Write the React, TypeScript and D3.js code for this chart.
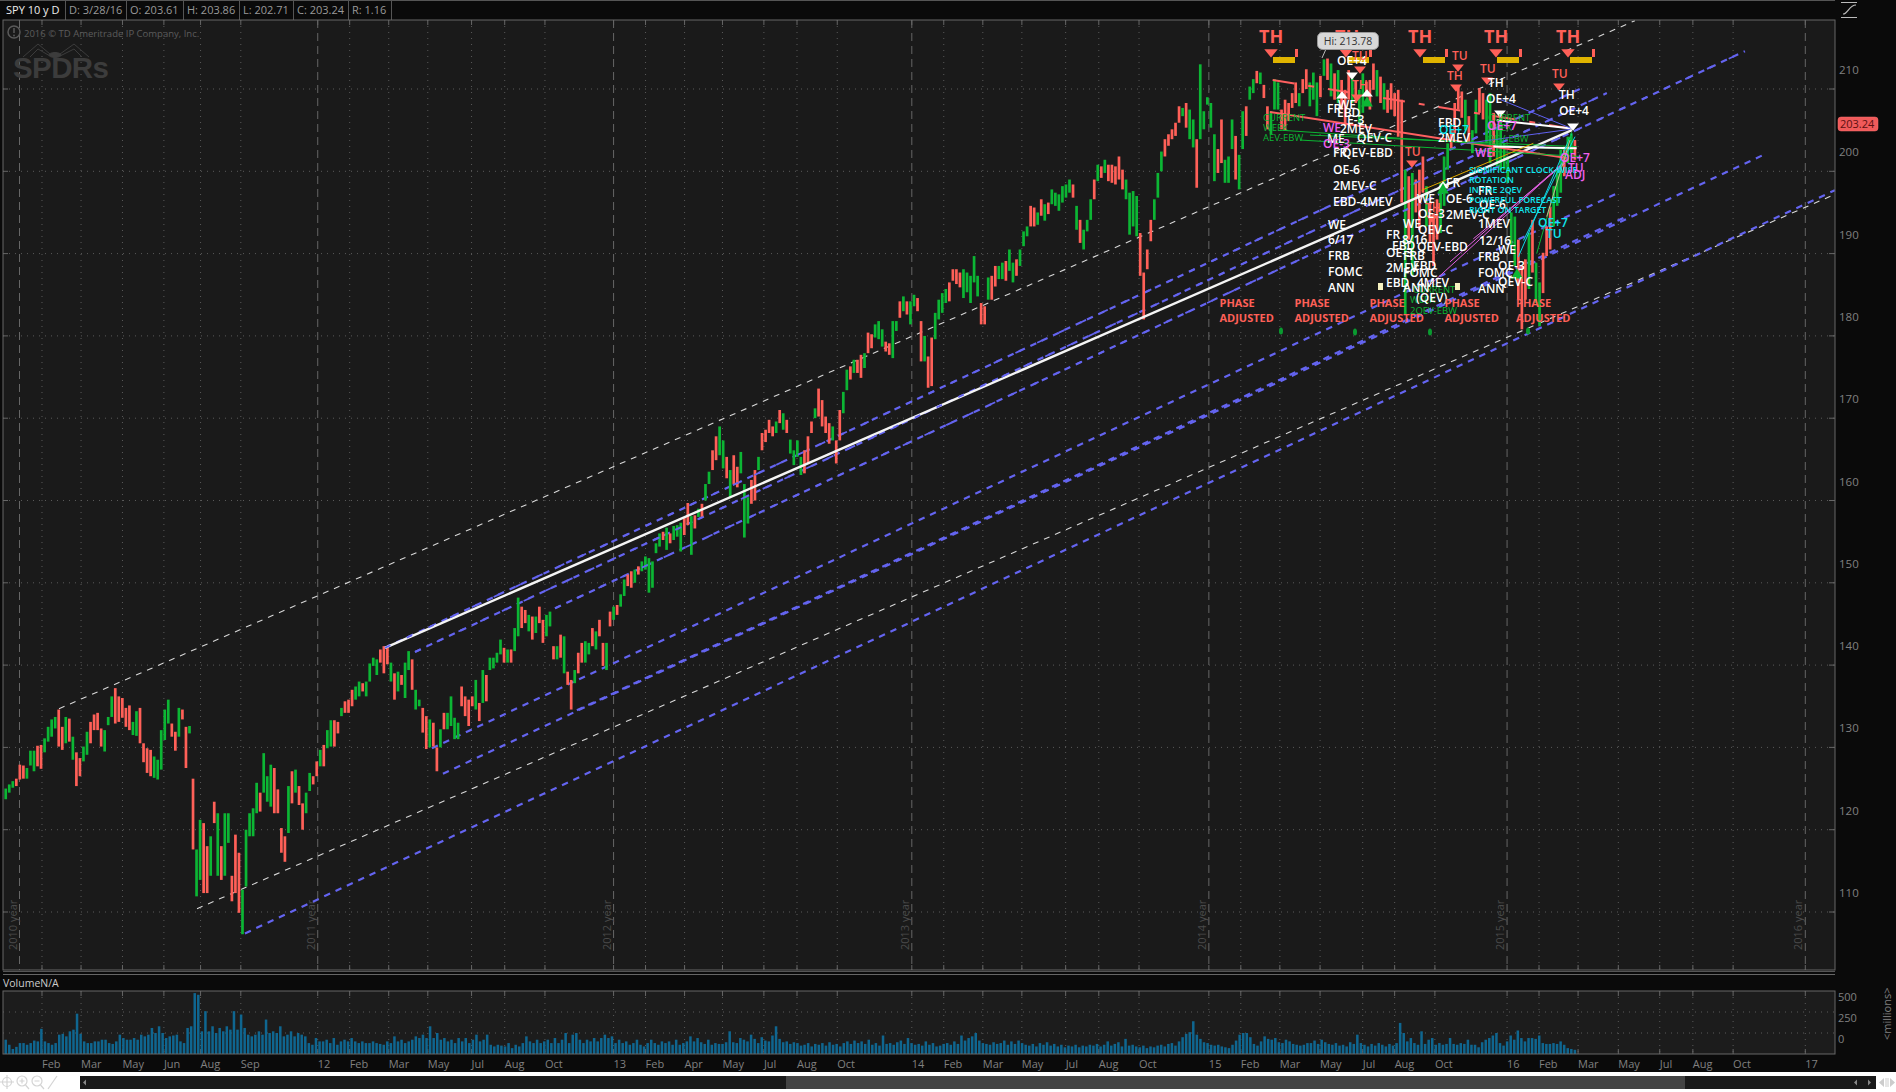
import React from "react";
import * as d3 from "d3";

// daily bars thinned to about every third session
const highs = [
  125, 125.5, 125.9, 126.2, 127.9, 127.8, 127.5, 129.6, 129.6, 130.2,
  130.3, 131.1, 132.5, 133.4, 133.7, 134.6, 132.5, 133.7, 133.5, 131.3,
  129.4, 128.7, 130.1, 131.9, 133.1, 134, 134.2, 132.3, 132.1, 133.7,
  136.2, 137.2, 136.2, 136, 134.8, 135.1, 133.1, 134.4, 134.8, 130.5,
  129.9, 129.7, 128.9, 128.5, 132.1, 134.6, 135.8, 132.9, 131.9, 134.8,
  134.6, 132.5, 132.6, 126.2, 117.6, 121.2, 120.8, 118, 119.2, 123.4,
  122, 118, 122, 122, 114.4, 119.4, 117.2, 112.7, 120, 122,
  122.6, 125.7, 124.5, 129.3, 126.5, 127.9, 127.5, 124.9, 120.2, 119.2,
  125.3, 127.1, 127.3, 125.3, 123.2, 124.5, 126.9, 126.5, 128.3, 129.7,
  130.3, 132.1, 133.3, 133.3, 133.1, 134.8, 135.6, 135.8, 137, 137.4,
  138, 137.8, 138,
  140.2, 140.9, 140.7, 141.9, 142.3, 142.1, 140.3, 139, 139.2, 138.8,
  140.3, 141.7, 140.7, 137, 135.8, 134.8, 133.8, 133.4, 133, 130,
  132.2, 134.2, 134.2, 136.2, 133.6, 133, 137.4, 136.2, 135.8, 136.2,
  138.2, 135.4, 139.4, 138.8, 140.9, 140.9, 141.5, 143.1, 142.1, 141.9,
  141.9, 144.5, 148.2, 147.1, 146.7, 146.1, 145.9, 145.9, 147.1, 145.5,
  146.1, 146.5, 142.3, 142.3, 143.7, 143.5, 139.2, 138.2, 139.4, 141.5,
  142.7, 142.9, 142.7, 144.5, 144.1, 145.5, 142.7, 142.7, 146.5, 147.1,
  147.3, 148.6, 150.4, 151, 151.4, 151.6, 152, 152.6, 153.2, 153,
  152.6, 154.8, 156, 156.2, 156.7, 156, 156.9, 157, 157.3, 157.9,
  159.7, 158.1,
  158.2, 159, 159.6, 162, 163.5, 166.1, 167.8, 169, 167.3, 165.3,
  163.7, 165.5, 164.1, 165.9, 162, 160.4, 162.5, 163.7, 165.3, 168.2,
  168.6, 169.8, 169, 169.6, 171, 170.6, 169.8, 167.4, 166.1, 167.3,
  165.3, 166.1, 167.8, 169.6, 171.2, 173.6, 172.2, 170.2, 169.4, 169,
  167.3, 171, 173.2, 175.9, 176.3, 177.1, 177.1, 177.7, 177.9, 180.4,
  180.2, 181.4, 181.8, 180.8, 179.3, 179.1, 181.8, 181.8, 184.2, 184.8,
  184.2, 184.2, 185, 184.6, 181.8, 180, 177.5, 179.8, 182.8, 184.4,
  185.2, 185.7, 186.5, 188.1, 188.1, 187.7, 188.1, 187.7, 187.3, 189.7,
  187.3, 184, 183.6, 187.1,
  187.3, 188.5, 188.5, 188.9, 189.1, 190.5, 188.9, 189.3, 190.5, 192.7,
  193.3, 195.8, 195.6, 195, 196.6, 196, 196.2, 197.8, 197.4, 197.2,
  198.2, 198.4, 199, 198.4, 195.8, 194.1, 192.9, 194.1, 196.6, 199,
  200.8, 200.6, 201.4, 200.8, 200.8, 200.6, 201.8, 200.2, 199, 197.4,
  197.6, 197, 192.5, 187.7, 190.5, 194.1, 196.6, 199.8, 202.4, 203.9,
  204.5, 205.1, 205.9, 207.9, 207.7, 208.3, 207.5, 206.3, 203.9, 213,
  207.3, 209, 208.3, 204.5, 202.7, 206.3, 201.4, 201.8, 206.3, 204.3,
  202, 207.3, 207.9, 210.3, 211.2, 212.2, 212, 210.5, 207.9, 207.3,
  211.2, 210.8, 207.5, 208.7, 208.3, 209.5, 210.8, 209.5, 211.2, 212.4,
  210.8, 212, 210.8, 211.6, 213.6,
  213.7, 213.1, 211.9, 212.3, 211.1, 209.9, 212.3, 211.3, 211.1, 209.9,
  211.9, 210.9, 211.1, 213.1, 212.3, 211.5, 210.7, 209.9, 210.7, 209.5,
  209.9, 208.7, 200.2, 199.4, 199.8, 199, 200.2, 201.8, 198.2, 196.2,
  194.9, 196.6, 198.6, 201.8, 203.4, 205, 208.3, 210.3, 209.7, 208.7,
  206.7, 205, 208.7, 210.1, 209.5, 208.7, 209.5, 207.1, 205.4, 207.1,
  203.4, 201.8, 195, 194.5, 191.7, 188.5, 189.3, 192.5, 194.1, 188.9,
  186.5, 190.1, 193.3, 195.7, 198.2, 200.2, 202.6, 203, 204.2, 204.6,
  203.8,
];

const lows = [
  123.7, 124.5, 125.1, 125.3, 126.1, 126.2, 126.2, 127.8, 127.1, 127.7,
  127.4, 129.4, 130.7, 131.3, 132.3, 130.1, 129.7, 130.5, 130.7, 128.5,
  125.3, 126.5, 128.3, 129.1, 130.5, 132.1, 132.1, 130.1, 129.5, 132.7,
  133.7, 132.9, 133.1, 133.6, 132.5, 132.1, 131.5, 131.4, 130.5, 128.2,
  126.9, 126.5, 126.3, 126.1, 127.3, 130.9, 132.9, 131.3, 129.6, 131.3,
  133.4, 127.5, 131.7, 117.6, 111.9, 113.9, 112.3, 112.3, 114.4, 120.8,
  114.4, 113.9, 114.4, 118.4, 111.3, 112.3, 109.9, 107.3, 113.1, 119.2,
  119.2, 122, 122.2, 124.5, 123.4, 122.8, 122, 122, 117.2, 116.1,
  119.6, 123.2, 124.5, 123, 120, 122, 124.7, 125.5, 126.5, 127.7,
  127.7, 129.9, 130.1, 130.1, 131.7, 133.8, 134.2, 134.2, 135, 135.8,
  136.2, 136.8, 136.2,
  138, 139.9, 138.8, 140.3, 139, 140.1, 138, 135.8, 136.8, 137.6,
  136, 139.4, 137, 134.6, 135, 131.8, 129.8, 130, 130.1, 127.1,
  130, 132.2, 132.2, 132.6, 131, 131, 135, 133.8, 132.6, 135,
  134.6, 133.2, 135.4, 135.6, 139.4, 139.6, 140.3, 141.3, 140.3, 140.3,
  140.3, 141.7, 143.5, 144.5, 145.1, 144.1, 143.1, 143.9, 145.1, 142.7,
  143.5, 144.7, 140.7, 140.7, 140.9, 139, 137.6, 134.6, 137.8, 139,
  140.3, 140.3, 141.3, 142.3, 141.9, 143.5, 139.9, 139.4, 144.7, 145.5,
  146.1, 147.1, 148.4, 149.6, 149.4, 150, 151, 151.4, 151.6, 148.8,
  149.4, 153.6, 154.4, 155.2, 154, 154.8, 155.2, 155.6, 153.8, 155.8,
  157, 153.4,
  156.6, 158, 158, 160, 162, 163.7, 164.9, 165.5, 163.9, 162.7,
  160.4, 162, 161.6, 163.3, 155.5, 157.2, 159.6, 160, 163.7, 166.1,
  167.1, 168.2, 167.8, 168.2, 169.4, 168.6, 168.2, 165.7, 164.3, 165.3,
  163.1, 163.3, 164.5, 168.2, 170, 170.2, 169, 168.2, 166.9, 167.3,
  164.5, 167.3, 170.6, 173.4, 174.7, 175.5, 175.5, 174.9, 176.1, 177.9,
  178.5, 179.8, 179.6, 178.7, 178.1, 177.7, 177.3, 180.6, 182.2, 183,
  182.6, 181.4, 183.6, 183, 176.9, 176.9, 173.7, 173.9, 179.6, 182,
  182.8, 184, 184.2, 186.7, 186.3, 185.9, 184.6, 185.3, 184, 186.5,
  184.8, 181.4, 181.4, 184.4,
  184.4, 186, 186.9, 186.9, 186.7, 187.9, 186.5, 187.3, 188.5, 190.9,
  192.1, 193.3, 193.3, 193.5, 194.6, 194, 194.8, 196, 195.8, 195.2,
  196.2, 196.8, 197.4, 196.8, 192.9, 191.3, 190.5, 192.7, 194.1, 196.6,
  198.8, 199.2, 199.8, 198.8, 198.6, 198.4, 199, 197.8, 196.6, 192.3,
  193.3, 192.1, 187.3, 182, 188.1, 191.5, 194.1, 196.8, 200, 201.8,
  203.1, 203.9, 204.3, 205.9, 206.7, 205.3, 203.9, 202.9, 198, 203.9,
  205.1, 208.1, 205.3, 198.8, 199.8, 201, 198.6, 198.6, 202.7, 199,
  197.8, 202.7, 204.3, 208.7, 209.5, 210.7, 210.6, 208.9, 205.1, 204.5,
  207.5, 207.5, 205.1, 204.9, 206.1, 207.7, 208.3, 207.9, 209.5, 210,
  207.9, 208.7, 206.7, 209, 211.6,
  211.1, 209.1, 208.7, 208.3, 207.5, 205.5, 208.7, 208.3, 208.3, 205.9,
  207.1, 209.1, 207.5, 209.9, 209.1, 208.3, 207.5, 207.1, 207.5, 206.7,
  204.2, 196.2, 182.6, 191.7, 187.3, 195, 192.9, 197.4, 193.3, 191.3,
  188.5, 191.7, 192.5, 195.8, 200.2, 202.6, 204.6, 207.5, 206.5, 205,
  203.4, 202.2, 204.6, 207.1, 206.3, 203.4, 201, 201.8, 200.6, 200.2,
  200.2, 198.6, 190.9, 188.5, 184.4, 180.8, 184.4, 185.7, 187.7, 184,
  181.2, 185.2, 189.7, 190.5, 193.3, 195.8, 197.4, 199.4, 201, 202.2,
  201.4,
];

const barSides =
  "gggrrrgggr" + "rggggrrgrg" + "rrggrrrrgg" + "grrrrrggrr" + "rrgggggrrg" +
  "rrgrggrrgr" + "grggrrrggg" + "ggrgggrrrr" + "grgrrggrrg" + "rggrrgrrrg" +
  "grg" +
  "gggrrrgrgr" + "ggrggrrgrr" + "grggggrrrr" + "grgrggggrg" + "rggrrgrgrr" +
  "ggrgrgrrgr" + "rggrgrrgrg" + "rggrrgrggg" + "gggrgrgggr" + "rgrgrggrrg" +
  "gr" +
  "grrgggrrgr" + "rrrgrgrggg" + "grrrgrrrrg" + "rrggrgrrgr" + "rgggrrggrg" +
  "rggrrgrrgg" + "ggrrrrgggg" + "grrgrrggrg" + "grgg" +
  "grrgrgrggg" + "gggrgrgggr" + "grgrrrrrgg" + "ggrrrrgggr" + "rrrrgrggrg" +
  "ggggrrgggr" + "ggrggrgrrg" + "ggrrrrrgrr" + "gggrgrgrgr" + "rrgrg" +
  "grrrgrgrrr" + "rrgrgrrrgr" + "rrgggrrrrg" + "rggrrggrgg" + "ggggrrrgrg" +
  "grrrgggrgg" + "rrggrrrrrg" + "r";

const volumes = [
  170, 110, 60, 85, 130, 130, 110, 130, 160, 150, 300, 150, 130, 110, 130, 230, 240, 210, 270, 290,
  480, 240, 150, 130, 130, 150, 150, 170, 170, 130, 120, 150, 230, 190, 170, 170, 190, 170, 230, 210,
  230, 310, 250, 330, 250, 190, 210, 220, 230, 150, 130, 310, 330, 725, 705, 270, 510, 270, 330, 250,
  310, 270, 330, 290, 510, 290, 470, 310, 230, 210, 230, 270, 230, 410, 250, 270, 250, 330, 210, 230,
  270, 210, 250, 230, 210, 130, 110, 190, 150, 150, 170, 130, 190, 110, 150, 170, 150, 190, 150, 130,
  150, 130, 130, 150, 130, 120, 110, 150, 130, 210, 150, 170, 130, 150, 170, 210, 190, 230, 190, 330,
  190, 250, 170, 190, 150, 170, 130, 190, 150, 190, 130, 170, 230, 150, 170, 230, 110, 90, 110, 100,
  90, 130, 70, 110, 90, 130, 210, 150, 130, 170, 130, 150, 170, 130, 190, 130, 170, 250, 130, 230,
  250, 170, 130, 170, 150, 190, 150, 190, 230, 190, 210, 130, 170, 130, 150, 110, 130, 170, 110, 90,
  130, 170, 130, 110, 150, 130, 150, 110, 170, 110, 130, 150, 210, 150, 190,
  140, 120, 170, 110, 130, 120, 120, 140, 270, 140, 130, 190, 170, 150, 230, 180, 130, 200, 160, 150,
  220, 330, 180, 140, 150, 120, 140, 130, 100, 110, 130, 90, 120, 110, 130, 100, 140, 110, 120, 90,
  130, 150, 120, 160, 130, 150, 120, 170, 110, 130, 100, 220, 120, 130, 110, 140, 160, 120, 190, 130,
  110, 120, 100, 150, 110, 130, 90, 100, 120, 130, 110, 150, 120, 220, 160, 190, 210, 250, 160, 130,
  120, 110, 140, 120, 130, 160, 110, 150, 120, 160, 130, 110, 100, 120, 90, 130, 110, 140, 100, 120,
  90, 110, 80, 100, 90, 110, 80, 100, 90, 110, 100, 120, 90, 110, 150, 100, 120, 140, 90, 180,
  100, 110, 90, 80, 100, 70, 90, 80, 100, 110, 90, 120, 130, 100, 150, 200, 240, 260, 390, 230,
  180, 140, 130, 110, 100, 110, 90, 80, 70, 110, 160, 230, 250, 250, 200, 120, 100, 150, 210, 180,
  170, 190, 140, 130, 170, 150, 120, 110, 100, 110, 130, 130, 160, 120, 170, 140, 120, 110, 130, 100,
  110, 90, 140, 120, 230, 130, 110, 90, 120, 100, 130, 110, 90, 120, 100, 130,
  370, 250, 150, 190, 130, 110, 270, 120, 170, 190, 110, 130, 110, 120, 190, 120, 110, 130, 120, 170,
  110, 110, 80, 140, 170, 190, 220, 250, 130, 100, 150, 220, 170, 280, 190, 150, 190, 190, 180, 220,
  130, 120, 120, 130, 120, 150, 110, 70, 60, 50,
];

// tick sessions counted from the first session of the year drawn at the left
const tickLabels = [
  "Feb", "Mar", "May", "Jun", "Aug", "Sep", "12", "Feb", "Mar", "May", "Jul", "Aug", "Oct", "13", "Feb", "Apr",
  "May", "Jul", "Aug", "Oct", "14", "Feb", "Mar", "May", "Jul", "Aug", "Oct", "15", "Feb", "Mar", "May", "Jul",
  "Aug", "Oct", "16", "Feb", "Mar", "May", "Jul", "Aug", "Oct", "17",
];
const tickSessions = [
  19, 52, 87, 122, 153, 187, 252, 279, 312, 345, 382, 410, 444, 502, 529, 562,
  594, 629, 657, 691, 754, 781, 814, 847, 884, 912, 946, 1005, 1032, 1065, 1099, 1135,
  1162, 1196, 1257, 1284, 1317, 1351, 1386, 1414, 1448, 1509,
];
const yearSessions = [0, 252, 502, 754, 1005, 1257, 1509];
const yearNames = ["2010 year", "2011 year", "2012 year", "2013 year", "2014 year", "2015 year", "2016 year"];
const priceTicks = [110, 120, 130, 140, 150, 160, 170, 180, 190, 200, 210];
const volumeTicks = [0, 250, 500];

// trend lines as start session, start price, end session, end price
const whiteChannels = [
  [33.4, 134.7, 1365, 218.3],
  [150, 110.4, 1534, 197.2],
];
const blueChannels = [
  [308.8, 142.1, 1318.5, 210],
  [334.2, 141.6, 1341.3, 209.5],
  [452.5, 146.9, 1458, 214.6],
  [348.5, 129.9, 1352.4, 197.5],
  [357.8, 126.8, 1476.6, 202.2],
  [471, 134.5, 1360.8, 194.7],
  [190.5, 107.4, 1534, 197.7],
];
const mainTrend = [308.8, 142.1, 1311.8, 205];
const fanLines = [
  { c: "#ff6060", w: 2, d: "", p: [1056.7, 207.2, 1307.4, 201.6] },
  { c: "#ff6060", w: 2, d: "22 14 6 14", p: [1058.9, 211.1, 1310.2, 205.2] },
  { c: "#0cb634", w: 1, d: "", p: [1065.1, 205, 1313, 202.6] },
  { c: "#0cb634", w: 1, d: "", p: [1090.5, 204.4, 1315.8, 203] },
  { c: "#0cb634", w: 1, d: "", p: [1082, 203.8, 1318.6, 201.8] },
  { c: "#ffffff", w: 2, d: "", p: [1248.2, 206.2, 1311.6, 205.2] },
  { c: "#ffffff", w: 2, d: "", p: [1245.4, 203, 1315.8, 202.8] },
  { c: "#e0a800", w: 1, d: "", p: [1184.8, 197.7, 1279.2, 203.4] },
  { c: "#6060f0", w: 1, d: "", p: [1248.2, 208.9, 1311.6, 205.2] },
  { c: "#6060f0", w: 1, d: "", p: [1222.9, 203.4, 1310.2, 205.1] },
  { c: "#e060e0", w: 1, d: "", p: [1191.9, 186.2, 1307.4, 201.4] },
  { c: "#e060e0", w: 1, d: "", p: [1208.8, 189, 1307.4, 201.4] },
  { c: "#e060e0", w: 1, d: "", p: [1228.5, 191.8, 1306, 201] },
  { c: "#10d8e8", w: 1, d: "", p: [1266.5, 189.6, 1311.6, 204.6] },
  { c: "#10d8e8", w: 1, d: "", p: [1270.8, 191.6, 1314.4, 204.2] },
  { c: "#0cb634", w: 1, d: "", p: [1282, 190, 1311.6, 204.8] },
  { c: "#c8b890", w: 1, d: "", p: [1290.5, 194.5, 1310.2, 203.8] },
];

const W = "#ffffff";
const C = "#10e8f0";
const M = "#f060f0";
const R = "#ff6058";
const G = "#0cb634";

const whiteNotes: [number, number, string][] = [
  [1337, 65, "OE+4"], [1327, 113, "FR"], [1338, 109, "WE"], [1337, 117, "EBD"], [1347, 124, "E-3"],
  [1340, 133, "2MEV"], [1327, 143, "ME"], [1357, 142, "QEV-C"], [1333, 157, "FR"], [1342, 157, "QEV-EBD"],
  [1333, 174, "OE-6"], [1333, 190, "2MEV-C"], [1333, 206, "EBD-4MEV"], [1328, 229, "WE"], [1328, 244, "6/17"],
  [1328, 260, "FRB"], [1328, 276, "FOMC"], [1328, 292, "ANN"],
  [1386, 239, "FR"], [1402, 244, "8/16"], [1403, 228, "WE"], [1418, 218, "OE-3"], [1418, 234, "QEV-C"],
  [1392, 250, "EBD"], [1417, 251, "QEV-EBD"], [1386, 257, "OE-3"], [1403, 260, "FRB"], [1386, 272, "2MEV"],
  [1413, 270, "EBD"], [1403, 277, "FOMC"], [1386, 287, "EBD"], [1417, 287, "4MEV"], [1403, 292, "ANN"], [1416, 302, "(QEV)"],
  [1438, 127, "EBD"], [1438, 142, "2MEV"], [1446, 187, "FR"], [1417, 203, "WE"], [1446, 203, "OE-6"], [1446, 219, "2MEV-C"],
  [1488, 87, "TH"], [1486, 103, "OE+4"], [1478, 195, "FR"], [1479, 209, "OE-6"], [1478, 228, "1MEV"], [1479, 245, "12/16"],
  [1498, 254, "WE"], [1478, 261, "FRB"], [1498, 270, "OE-3"], [1478, 277, "FOMC"], [1498, 286, "QEV-C"], [1478, 293, "ANN"],
  [1559, 99, "TH"], [1559, 115, "OE+4"],
];
const cyanNotes: [number, number, string][] = [[1439, 134, "OE+7"], [1538, 227, "OE+7"], [1546, 238, "TU"]];
const cyanSmall: [number, number, string][] = [
  [1469, 173, "SIGNIFICANT CLOCK-WISE"], [1469, 183, "ROTATION"], [1469, 193, "IN THE 2QEV"],
  [1469, 203, "POWERFUL FORECAST"], [1469, 213, "RIGHT ON TARGET"],
];
const magentaNotes: [number, number, string][] = [
  [1323, 132, "WE"], [1323, 148, "OE-3"], [1487, 130, "OE+7"], [1475, 157, "WE"],
  [1560, 162, "OE+7"], [1568, 172, "TU"], [1565, 179, "ADJ"],
];
const greenNotes: [number, number, string][] = [
  [1263, 121, "CURRENT"], [1263, 131, "WEEK"], [1263, 141, "AEV-EBW"],
  [1488, 121, "CURRENT"], [1487, 131, "WEEK"], [1487, 142, "OEV-EBW"],
  [1413, 293, "CURRENT"], [1410, 303, "WEEK"], [1410, 314, "2QEV-EBW"],
];
const redNotes: [number, number, string][] = [
  [1352, 60, "TU"], [1405, 156, "TU"], [1452, 60, "TU"], [1480, 73, "TU"], [1552, 78, "TU"],
  [1352, 89, "TH"], [1447, 80, "TH"], [1425, 212, "TH"],
];
const bigTh = [1259, 1335, 1408, 1484, 1556];
const bigThTri = [1271, 1346, 1420, 1496, 1568];
const yellowBars = [1273, 1347, 1423, 1497, 1570];
const smallRedTri = [[1360, 69], [1412, 163], [1458, 67], [1487, 80], [1559, 86], [1357, 97], [1456, 87], [1432, 218]];
const whiteDownTri = [[1352, 75], [1500, 113], [1573, 126]];
const whiteUpTri = [[1342, 96], [1367, 94], [1443, 186]];
const greenUpTri = [[1367, 103], [1443, 190], [1517, 275]];
const phaseX = [1219.5, 1294.5, 1369.5, 1444.5, 1516];
const ovals = [[1281, 331], [1355, 332], [1430, 332], [1528, 331]];
const squares = [[1378, 283], [1455, 283]];
const headerCells = ["D: 3/28/16", "O: 203.61", "H: 203.86", "L: 202.71", "C: 203.24", "R: 1.16"];
const headerX = [69, 130, 187, 243, 297, 352];
const headerSeps = [65, 126, 183, 239, 293, 348, 391];

const font = "'Open Sans', sans-serif";

export default function App() {
  const x = d3.scaleLinear().domain([0, 1509]).range([19.5, 1805.3]);
  const y = d3.scaleLinear().domain([110, 210]).range([912, 89]);
  const yVol = d3.scaleLinear().domain([0, 500]).range([1054, 1012]);
  const firstSession = -11.65;
  const lastSession = 1314.3;
  const barX = d3.scaleLinear().domain([0, highs.length - 1]).range([x(firstSession), x(lastSession)]);
  const volX = d3.scaleLinear().domain([0, volumes.length - 1]).range([x(firstSession), x(lastSession)]);
  const segment = (p: number[], props: any, key: any) => (
    <line key={key} x1={x(p[0])} y1={y(p[1])} x2={x(p[2])} y2={y(p[3])} {...props} />
  );
  const triUp = d3.symbol().type(d3.symbolTriangle).size(60)() as string;
  const notes = (list: [number, number, string][], fill: string, size: number, weight = 600) =>
    list.map((n, i) => (
      <text key={fill + size + i} x={n[0]} y={n[1]} fill={fill} fontSize={size} fontWeight={weight}>
        {n[2]}
      </text>
    ));

  return (
    <svg
      width={1896}
      height={1092}
      style={{ position: "absolute", left: 0, top: 0, display: "block", fontFamily: font }}
    >
      <rect width={1896} height={1092} fill="#0a0a0a" />
      <rect x={3} y={20} width={1832} height={950} fill="#1a1a1a" />
      <rect x={3} y={991} width={1832} height={63} fill="#1c1c1c" />

      {/* header strip */}
      <line x1={0} x2={1835} y1={0.5} y2={0.5} stroke="#555" />
      <text x={6} y={14} fill="#eee" fontSize={11}>SPY 10 y D</text>
      {headerCells.map((t, i) => (
        <text key={t} x={headerX[i]} y={14} fill="#999" fontSize={11}>{t}</text>
      ))}
      {headerSeps.map((s) => (
        <line key={s} x1={s + 0.5} x2={s + 0.5} y1={0} y2={20} stroke="#555" />
      ))}

      {/* grid */}
      {priceTicks.map((p) => (
        <g key={p}>
          <line x1={3} x2={1835} y1={y(p)} y2={y(p)} stroke="#5a5a5a" strokeDasharray="1 5" />
          <line x1={3} x2={8} y1={y(p)} y2={y(p)} stroke="#666" />
          <line x1={1829} x2={1835} y1={y(p)} y2={y(p)} stroke="#666" />
          <text x={1839} y={y(p) - 15} fill="#808080" fontSize={11.5}>{p}</text>
        </g>
      ))}
      {tickSessions.map((s, i) => {
        const isYear = yearSessions.includes(s);
        return (
          <g key={i}>
            <line
              x1={x(s)} x2={x(s)} y1={20} y2={970}
              stroke={isYear ? "#666" : "#5a5a5a"}
              strokeDasharray={isYear ? "8 5" : "1 5"}
            />
            <line x1={x(s)} x2={x(s)} y1={20} y2={25} stroke="#666" />
            <line x1={x(s)} x2={x(s)} y1={965} y2={970} stroke="#666" />
            <line x1={x(s)} x2={x(s)} y1={991} y2={1054} stroke="#5a5a5a" strokeDasharray="1 5" />
            <line x1={x(s)} x2={x(s)} y1={991} y2={996} stroke="#666" />
            <line x1={x(s)} x2={x(s)} y1={1049} y2={1054} stroke="#666" />
            <text x={x(s)} y={1068} fill="#808080" fontSize={11}>{tickLabels[i]}</text>
          </g>
        );
      })}
      <line x1={x(0)} x2={x(0)} y1={20} y2={970} stroke="#666" strokeDasharray="8 5" />
      {yearNames.map((t, i) => (
        <text
          key={t}
          transform={`translate(${x(yearSessions[i]) - 3},950) rotate(-90)`}
          fill="#4a4a4a"
          fontSize={11}
        >
          {t}
        </text>
      ))}

      {/* watermark */}
      <circle cx={14} cy={32} r={6} fill="none" stroke="#5a5a5a" strokeWidth={1.5} />
      <line x1={14} x2={14} y1={28} y2={33} stroke="#5a5a5a" strokeWidth={1.5} />
      <circle cx={14} cy={35.5} r={0.9} fill="#5a5a5a" />
      <text x={24} y={37} fill="#5c5c5c" fontSize={9.5}>2016 © TD Ameritrade IP Company, Inc.</text>
      <text x={13} y={78} fill="#3c3c3c" fontSize={29.5} fontWeight={700} letterSpacing={-0.6} fontFamily="'Liberation Sans'">SPDRs</text>
      <g stroke="#3c3c3c" fill="none">
        <path d="M23 57 L38 44 L50 54 M30 57 L38 49 L50 56 M89 57 L74 44 L60 54 M82 57 L74 49 L60 56" />
        <ellipse cx={55} cy={55} rx={6} ry={2.5} fill="#3c3c3c" />
      </g>

      {/* channels under the bars */}
      {whiteChannels.map((p, i) =>
        segment(p, { stroke: "#d8d8d8", strokeWidth: 1.1, strokeDasharray: "6 6" }, "wc" + i)
      )}
      {blueChannels.map((p, i) =>
        segment(p, { stroke: "#6464f0", strokeWidth: 2.2, strokeDasharray: "6.5 6" }, "bc" + i)
      )}

      {/* price bars */}
      {highs.map((h, i) => (
        <line
          key={i}
          x1={barX(i)}
          x2={barX(i)}
          y1={y(h)}
          y2={y(lows[i])}
          stroke={barSides[i] === "g" ? "#0cb634" : "#ff6058"}
          strokeWidth={2.7}
        />
      ))}

      {segment(mainTrend, { stroke: "#f4f4f4", strokeWidth: 2.4 }, "main")}
      {blueChannels.map((p, i) =>
        i < 3 ? segment(p, { stroke: "#6464f0", strokeWidth: 1.8, strokeDasharray: "6 18" }, "bt" + i) : null
      )}
      {fanLines.map((l, i) =>
        segment(l.p, { stroke: l.c, strokeWidth: l.w, strokeDasharray: l.d || undefined }, "fan" + i)
      )}

      {/* study labels */}
      {yellowBars.map((bx) => (
        <g key={bx}>
          <rect x={bx} y={57} width={22} height={6} fill="#e0b400" />
          <rect x={bx + 22} y={49} width={3} height={8} fill={R} />
        </g>
      ))}
      {bigTh.map((tx) => (
        <text key={tx} x={tx} y={43} fill={R} fontSize={18} fontWeight={700}>TH</text>
      ))}
      {bigThTri.map((tx) => (
        <path key={tx} transform={`translate(${tx},52) rotate(180) scale(1.15 0.8)`} d={triUp} fill={R} />
      ))}
      {smallRedTri.map((t, i) => (
        <path key={i} transform={`translate(${t[0]},${t[1]}) rotate(180) scale(1 0.7)`} d={triUp} fill={R} />
      ))}
      {whiteDownTri.map((t, i) => (
        <path key={i} transform={`translate(${t[0]},${t[1]}) rotate(180) scale(1 0.7)`} d={triUp} fill={W} />
      ))}
      {whiteUpTri.map((t, i) => (
        <path key={i} transform={`translate(${t[0]},${t[1]}) scale(1 0.7)`} d={triUp} fill={W} />
      ))}
      {greenUpTri.map((t, i) => (
        <path key={i} transform={`translate(${t[0]},${t[1]}) scale(1 1)`} d={triUp} fill={G} />
      ))}
      {notes(greenNotes, G, 9.5, 400)}
      {notes(whiteNotes, W, 12)}
      {notes(redNotes, R, 12)}
      {notes(cyanNotes, C, 12)}
      {notes(cyanSmall, C, 8.8)}
      {notes(magentaNotes, M, 12)}
      {phaseX.map((px) => (
        <g key={px} fill={R} fontSize={11} fontWeight={700}>
          <text x={px} y={307}>PHASE</text>
          <text x={px} y={322}>ADJUSTED</text>
        </g>
      ))}
      {ovals.map((o, i) => (
        <ellipse key={i} cx={o[0]} cy={o[1]} rx={2} ry={3.5} fill="#0a9a30" />
      ))}
      {squares.map((s, i) => (
        <rect key={i} x={s[0]} y={s[1]} width={5} height={7} fill="#f6f2c0" />
      ))}

      {/* high tag */}
      <path d="M1322 58 L1326 49" stroke="#bbb" strokeWidth={1} />
      <rect x={1317.5} y={32.5} width={61} height={17} rx={5} fill="#d8d8d8" stroke="#999" />
      <text x={1348} y={45} textAnchor="middle" fill="#333" fontSize={10.5}>Hi: 213.78</text>

      {/* panel frames */}
      <rect x={3} y={20} width={1832} height={950} fill="none" stroke="#666" />
      <rect x={0} y={971} width={1835} height={20} fill="#0a0a0a" />
      <line x1={3} x2={1835} y1={971.5} y2={971.5} stroke="#555" />
      <line x1={3} x2={1835} y1={974.5} y2={974.5} stroke="#666" />
      <text x={3} y={987} fill="#ccc" fontSize={10.5}>VolumeN/A</text>

      {/* right side axis */}
      <rect x={1838} y={117} width={40} height={14} rx={3} fill="#f05a5a" stroke="#ff7070" strokeWidth={0.5} />
      <text x={1840} y={128} fill="#5c1010" fontSize={11}>203.24</text>
      <g stroke="#bbb" fill="none" strokeWidth={1.2}>
        <path d="M1841 2.5 H1857 M1841 17.5 H1857 M1843 14 C1848 14 1849 5 1856 5" />
      </g>

      {/* volume */}
      {volumeTicks.slice(1).map((v) => (
        <line key={v} x1={3} x2={1835} y1={yVol(v)} y2={yVol(v)} stroke="#5a5a5a" strokeDasharray="1 5" />
      ))}
      {volumes.map((v, i) => (
        <rect
          key={i}
          x={volX(i) - 1.25}
          y={yVol(v)}
          width={2.5}
          height={yVol(0) - yVol(v)}
          fill="#0f6690"
        />
      ))}
      <rect x={3} y={991} width={1832} height={63} fill="none" stroke="#666" />
      {volumeTicks.map((v) => (
        <text key={v} x={1838} y={yVol(v) - 11} fill="#808080" fontSize={11}>{v}</text>
      ))}
      <text transform="translate(1891,1040) rotate(-90)" fill="#808080" fontSize={11}>{"<millions>"}</text>

      {/* bottom scroller */}
      <rect x={0} y={1072} width={1896} height={20} fill="#ffffff" />
      <g stroke="#d4d4d4" fill="none" strokeWidth={1.2}>
        <circle cx={7} cy={1082} r={4.5} />
        <path d="M7 1075 V1089 M0 1082 H14" />
        <circle cx={22} cy={1081} r={5} />
        <path d="M25.5 1085 L29 1089 M19.5 1081 H24.5 M22 1078.5 V1083.5" />
        <circle cx={37} cy={1081} r={5} />
        <path d="M40.5 1085 L44 1089 M34.5 1081 H39.5" />
        <path d="M48 1089 L57 1076" />
      </g>
      <rect x={80} y={1076} width={1796} height={13} fill="#1a1a1a" />
      <rect x={786} y={1076} width={899} height={13} fill="#444" />
      <path d="M86 1079.5 V1085.5 L83 1082.5 Z" fill="#888" />
      <path d="M1857 1079.5 V1085.5 L1854 1082.5 Z M1868 1079.5 V1085.5 L1871 1082.5 Z" fill="#888" />
      <path d="M1879 1082.5 L1884 1078 V1087 Z M1895 1082.5 L1890 1078 V1087 Z" fill="#ccc" />
      <path d="M1886 1078 V1087 M1888 1078 V1087" stroke="#ccc" />
    </svg>
  );
}
